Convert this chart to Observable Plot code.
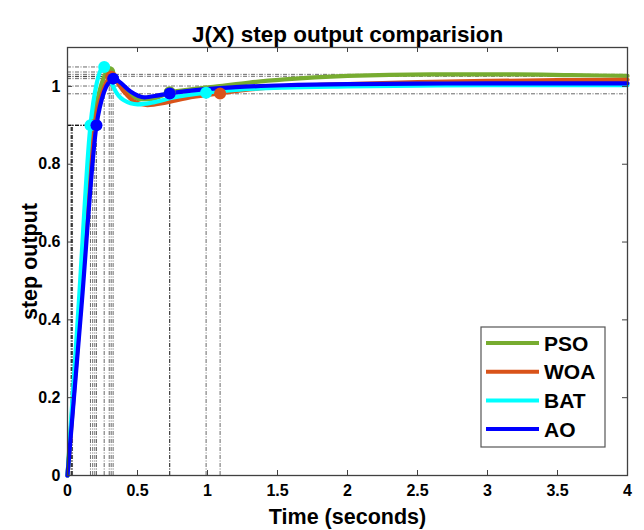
<!DOCTYPE html>
<html><head><meta charset="utf-8">
<script src="https://cdn.jsdelivr.net/npm/d3@7"></script>
<script src="https://cdn.jsdelivr.net/npm/@observablehq/plot@0.6"></script>
<style>body{margin:0;background:#fff} svg{display:block}</style>
</head><body><div id="chart"></div>
<script>
const seriesNames = ["PSO", "WOA", "BAT", "AO"];
const seriesColors = ["#77AC30", "#D95319", "#00FFFF", "#0000FF"];

const tPSO = [0, 0.09, 0.18, 0.23, 0.27, 0.298, 0.33, 0.38, 0.45, 0.52, 0.6, 0.73, 0.9, 1.07, 1.3, 1.55, 2.0, 2.6, 3.2, 3.6, 4.0];
const yPSO = [0, 0.45, 0.9, 0.99, 1.03, 1.037, 1.03, 1.003, 0.978, 0.967, 0.968, 0.984, 0.993, 1.0, 1.01, 1.018, 1.027, 1.031, 1.031, 1.029, 1.027];
const tWOA = [0, 0.1, 0.195, 0.25, 0.29, 0.312, 0.34, 0.4, 0.48, 0.57, 0.7, 0.85, 1.09, 1.3, 1.55, 2.0, 2.5, 3.0, 3.5, 4.0];
const yWOA = [0, 0.46, 0.9, 0.985, 1.018, 1.025, 1.017, 0.988, 0.96, 0.952, 0.958, 0.97, 0.982, 0.992, 0.999, 1.006, 1.011, 1.014, 1.016, 1.017];
const tBAT = [0, 0.08, 0.164, 0.21, 0.24, 0.262, 0.285, 0.33, 0.4, 0.5, 0.6, 0.75, 0.99, 1.2, 1.55, 2.0, 2.5, 3.0, 3.5, 4.0];
const yBAT = [0, 0.44, 0.9, 1.01, 1.044, 1.05, 1.04, 0.997, 0.965, 0.954, 0.958, 0.971, 0.984, 0.991, 0.997, 1.0, 1.002, 1.003, 1.003, 1.003];
const tAO = [0, 0.1, 0.207, 0.26, 0.3, 0.326, 0.37, 0.45, 0.55, 0.65, 0.73, 0.9, 1.2, 1.55, 2.0, 2.5, 3.0, 3.5, 4.0];
const yAO = [0, 0.435, 0.9, 0.985, 1.013, 1.02, 1.012, 0.987, 0.972, 0.977, 0.982, 0.99, 0.998, 1.003, 1.006, 1.007, 1.008, 1.008, 1.008];

// step characteristics (order: PSO, WOA, BAT, AO)
const riseStartTime = [0.028, 0.032, 0.025, 0.036];
const riseTime = [0.18, 0.195, 0.164, 0.207];
const riseValue = [0.9, 0.9, 0.9, 0.9];
const peakTime = [0.298, 0.312, 0.262, 0.326];
const peakValue = [1.037, 1.025, 1.05, 1.02];
const settleTime = [0.73, 1.09, 0.99, 0.73];
const settleValue = [0.985, 0.982, 0.984, 0.982];
const steadyLevels = [1.031, 1.026, 1.001, 0.981];

const xTicks = [0, 0.5, 1, 1.5, 2, 2.5, 3, 3.5, 4];
const yTicks = [0, 0.2, 0.4, 0.6, 0.8, 1];
const titleText = "J(X) step output comparision";
const xLabel = "Time (seconds)";
const yLabel = "step output";

const tArr = [tPSO, tWOA, tBAT, tAO];
const yArr = [yPSO, yWOA, yBAT, yAO];
const rows = [];
seriesNames.forEach((n, i) => tArr[i].forEach((t, j) => rows.push({name: n, t, v: yArr[i][j]})));

const pts = seriesNames.flatMap((n, i) => [
  {name: n, t: riseTime[i], v: riseValue[i]},
  {name: n, t: peakTime[i], v: peakValue[i]},
  {name: n, t: settleTime[i], v: settleValue[i]}
]);
const vlines = [
  ...riseStartTime.map((t) => ({t, v: 0.9})),
  ...pts.map(p => ({t: p.t, v: p.v}))
];
const hlines = [
  ...riseTime.map((t, i) => ({t, v: riseValue[i]})),
  ...peakTime.map((t, i) => ({t, v: peakValue[i]}))
];

const W = 644, H = 530, ML = 67, MR = 17, MT = 47, MB = 55;
const frameW = W - ML - MR, frameH = H - MT - MB, tick = 5;
const dash = {stroke: "#000", strokeWidth: 0.7, strokeDasharray: "4,1.5,1,1.5", strokeOpacity: 0.85};
const axisStroke = "#404040";
const font = "'Liberation Sans', Arial, Helvetica, sans-serif";

const svg = Plot.plot({
  width: W, height: H,
  marginLeft: ML, marginRight: MR, marginTop: MT, marginBottom: MB,
  style: {fontFamily: font, background: "#fff", color: "#000"},
  x: {domain: [0, 4]},
  y: {domain: [0, 1.1]},
  color: {domain: seriesNames, range: seriesColors},
  marks: [
    Plot.ruleY(steadyLevels, {y: d => d, ...dash}),
    Plot.ruleX(vlines, {x: "t", y1: 0, y2: "v", ...dash}),
    Plot.ruleY(hlines, {y: "v", x1: 0, x2: "t", ...dash}),
    Plot.line(rows, {x: "t", y: "v", z: "name", stroke: "name", strokeWidth: 4.2, curve: "monotone-x"}),
    Plot.dot(pts, {x: "t", y: "v", fill: "name", r: 6}),
    Plot.frame({stroke: axisStroke, strokeWidth: 1.3}),
    // inward ticks on all four sides
    Plot.tickX(xTicks, {x: d => d, insetTop: frameH - tick, stroke: axisStroke}),
    Plot.tickX(xTicks, {x: d => d, insetBottom: frameH - tick, stroke: axisStroke}),
    Plot.tickY(yTicks, {y: d => d, insetRight: frameW - tick, stroke: axisStroke}),
    Plot.tickY(yTicks, {y: d => d, insetLeft: frameW - tick, stroke: axisStroke}),
    Plot.axisX(xTicks, {anchor: "bottom", tickSize: 0, tickPadding: 9, tickFormat: d => String(d), fontSize: 16, fontWeight: "bold", label: null}),
    Plot.axisY(yTicks, {anchor: "left", tickSize: 0, tickPadding: 7, tickFormat: d => String(d), fontSize: 16, fontWeight: "bold", label: null}),
    Plot.text([titleText], {frameAnchor: "top", dy: -13, textAnchor: "middle", lineAnchor: "middle", fontSize: 22.5, fontWeight: "bold", fill: "#000"}),
    Plot.text([xLabel], {frameAnchor: "bottom", dy: 42, textAnchor: "middle", lineAnchor: "middle", fontSize: 21.5, fontWeight: "bold", fill: "#000"}),
    Plot.text([yLabel], {frameAnchor: "left", dx: -37, rotate: -90, textAnchor: "middle", lineAnchor: "middle", fontSize: 21.5, fontWeight: "bold", fill: "#000"})
  ]
});

// legend
const lg = d3.select(svg).append("g").attr("font-family", font).attr("text-anchor", "start");
lg.append("rect").attr("x", 481).attr("y", 327).attr("width", 124).attr("height", 120)
  .attr("fill", "#fff").attr("stroke", "#555").attr("stroke-width", 1.2);
seriesNames.forEach((n, i) => {
  const y = 343 + i * 28.7;
  lg.append("line").attr("x1", 486).attr("x2", 539).attr("y1", y).attr("y2", y)
    .attr("stroke", seriesColors[i]).attr("stroke-width", 4);
  lg.append("text").attr("x", 544).attr("y", y).attr("dy", "0.36em")
    .attr("text-anchor", "start")
    .attr("font-size", 21).attr("font-weight", "bold").attr("fill", "#000").text(n);
});

document.getElementById("chart").appendChild(svg);
</script>
</body></html>
